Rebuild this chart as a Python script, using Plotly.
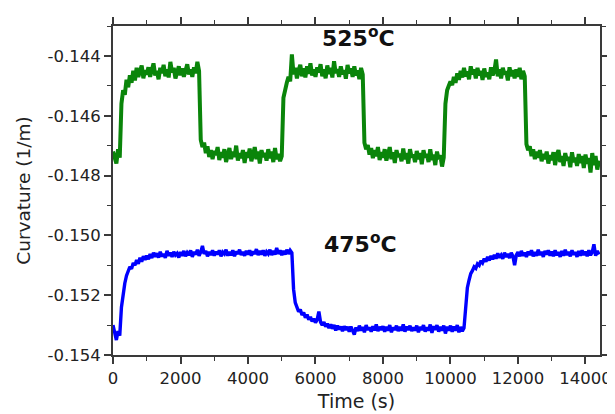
import plotly.graph_objects as go

# Time grid (s), sampled every 50 s
time_s = list(range(0, 14401, 50))

# 525 °C curvature (1/m)
curv_525 = [
    -0.14720, -0.14745, -0.14760, -0.14712, -0.14740, -0.14560, -0.14515, -0.14530, -0.14480, -0.14505,
    -0.14465, -0.14490, -0.14450, -0.14482, -0.14440, -0.14470, -0.14455, -0.14432, -0.14475, -0.14448,
    -0.14462, -0.14438, -0.14470, -0.14445, -0.14425, -0.14465, -0.14450, -0.14478, -0.14440, -0.14458,
    -0.14430, -0.14468, -0.14445, -0.14472, -0.14420, -0.14455, -0.14440, -0.14475, -0.14452, -0.14435,
    -0.14465, -0.14442, -0.14470, -0.14448, -0.14428, -0.14462, -0.14445, -0.14470, -0.14438, -0.14458,
    -0.14420, -0.14450, -0.14680, -0.14705, -0.14690, -0.14725, -0.14702, -0.14738, -0.14715, -0.14745,
    -0.14718, -0.14732, -0.14705, -0.14748, -0.14722, -0.14740, -0.14712, -0.14755, -0.14728, -0.14708,
    -0.14745, -0.14720, -0.14738, -0.14700, -0.14750, -0.14725, -0.14742, -0.14715, -0.14758, -0.14722,
    -0.14740, -0.14710, -0.14752, -0.14728, -0.14705, -0.14745, -0.14720, -0.14760, -0.14715, -0.14738,
    -0.14725, -0.14750, -0.14712, -0.14742, -0.14720, -0.14755, -0.14708, -0.14745, -0.14728, -0.14752,
    -0.14735, -0.14540, -0.14505, -0.14490, -0.14470, -0.14485, -0.14395, -0.14462, -0.14440, -0.14475,
    -0.14448, -0.14430, -0.14468, -0.14442, -0.14472, -0.14435, -0.14460, -0.14425, -0.14465, -0.14445,
    -0.14470, -0.14438, -0.14455, -0.14428, -0.14468, -0.14445, -0.14475, -0.14432, -0.14460, -0.14440,
    -0.14472, -0.14418, -0.14458, -0.14445, -0.14470, -0.14435, -0.14462, -0.14448, -0.14476, -0.14430,
    -0.14458, -0.14442, -0.14470, -0.14435, -0.14465, -0.14448, -0.14478, -0.14440, -0.14462, -0.14690,
    -0.14712, -0.14698, -0.14730, -0.14708, -0.14742, -0.14715, -0.14735, -0.14705, -0.14748, -0.14722,
    -0.14740, -0.14712, -0.14750, -0.14725, -0.14705, -0.14745, -0.14722, -0.14758, -0.14715, -0.14738,
    -0.14728, -0.14752, -0.14710, -0.14745, -0.14725, -0.14760, -0.14712, -0.14740, -0.14730, -0.14755,
    -0.14718, -0.14745, -0.14725, -0.14762, -0.14715, -0.14740, -0.14728, -0.14755, -0.14712, -0.14748,
    -0.14730, -0.14765, -0.14720, -0.14745, -0.14732, -0.14770, -0.14740, -0.14560, -0.14515, -0.14500,
    -0.14485, -0.14498, -0.14470, -0.14490, -0.14458, -0.14480, -0.14450, -0.14472, -0.14440, -0.14468,
    -0.14452, -0.14478, -0.14435, -0.14462, -0.14445, -0.14475, -0.14440, -0.14465, -0.14450, -0.14480,
    -0.14442, -0.14470, -0.14455, -0.14478, -0.14438, -0.14465, -0.14450, -0.14412, -0.14468, -0.14445,
    -0.14475, -0.14440, -0.14462, -0.14452, -0.14482, -0.14438, -0.14468, -0.14448, -0.14475, -0.14445,
    -0.14470, -0.14440, -0.14478, -0.14450, -0.14468, -0.14695, -0.14715, -0.14702, -0.14735, -0.14712,
    -0.14745, -0.14720, -0.14740, -0.14715, -0.14752, -0.14728, -0.14745, -0.14720, -0.14760, -0.14732,
    -0.14748, -0.14722, -0.14765, -0.14730, -0.14715, -0.14755, -0.14735, -0.14768, -0.14725, -0.14750,
    -0.14738, -0.14772, -0.14722, -0.14755, -0.14740, -0.14768, -0.14728, -0.14758, -0.14735, -0.14775,
    -0.14730, -0.14760, -0.14742, -0.14790, -0.14725, -0.14765, -0.14735, -0.14780, -0.14750,
]

# 475 °C curvature (1/m)
curv_475 = [
    -0.15300, -0.15330, -0.15350, -0.15320, -0.15335, -0.15240, -0.15190, -0.15160, -0.15135, -0.15120,
    -0.15105, -0.15112, -0.15092, -0.15100, -0.15082, -0.15095, -0.15075, -0.15088, -0.15070, -0.15082,
    -0.15068, -0.15080, -0.15062, -0.15076, -0.15058, -0.15072, -0.15060, -0.15074, -0.15055, -0.15070,
    -0.15062, -0.15075, -0.15052, -0.15068, -0.15058, -0.15072, -0.15055, -0.15066, -0.15060, -0.15074,
    -0.15056, -0.15068, -0.15052, -0.15070, -0.15058, -0.15066, -0.15050, -0.15072, -0.15055, -0.15064,
    -0.15048, -0.15068, -0.15056, -0.15035, -0.15062, -0.15052, -0.15070, -0.15055, -0.15066, -0.15050,
    -0.15068, -0.15054, -0.15064, -0.15050, -0.15070, -0.15056, -0.15062, -0.15048, -0.15068, -0.15055,
    -0.15066, -0.15050, -0.15070, -0.15054, -0.15062, -0.15048, -0.15066, -0.15055, -0.15068, -0.15052,
    -0.15064, -0.15050, -0.15068, -0.15054, -0.15062, -0.15046, -0.15066, -0.15052, -0.15064, -0.15050,
    -0.15068, -0.15055, -0.15062, -0.15048, -0.15066, -0.15052, -0.15064, -0.15042, -0.15062, -0.15050,
    -0.15066, -0.15052, -0.15064, -0.15048, -0.15062, -0.15050, -0.15058, -0.15180, -0.15225, -0.15240,
    -0.15255, -0.15248, -0.15266, -0.15258, -0.15275, -0.15265, -0.15282, -0.15272, -0.15288, -0.15278,
    -0.15292, -0.15282, -0.15255, -0.15290, -0.15300, -0.15290, -0.15305, -0.15295, -0.15310, -0.15298,
    -0.15312, -0.15300, -0.15318, -0.15302, -0.15314, -0.15305, -0.15320, -0.15304, -0.15316, -0.15306,
    -0.15322, -0.15305, -0.15318, -0.15332, -0.15308, -0.15320, -0.15302, -0.15318, -0.15306, -0.15324,
    -0.15300, -0.15316, -0.15308, -0.15322, -0.15304, -0.15318, -0.15298, -0.15320, -0.15306, -0.15316,
    -0.15304, -0.15322, -0.15306, -0.15318, -0.15300, -0.15324, -0.15308, -0.15316, -0.15302, -0.15320,
    -0.15306, -0.15318, -0.15298, -0.15322, -0.15305, -0.15316, -0.15302, -0.15320, -0.15308, -0.15318,
    -0.15302, -0.15324, -0.15306, -0.15316, -0.15300, -0.15322, -0.15308, -0.15318, -0.15298, -0.15326,
    -0.15304, -0.15316, -0.15300, -0.15322, -0.15306, -0.15318, -0.15302, -0.15328, -0.15305, -0.15318,
    -0.15302, -0.15322, -0.15305, -0.15318, -0.15300, -0.15324, -0.15306, -0.15320, -0.15310, -0.15230,
    -0.15175, -0.15150, -0.15128, -0.15118, -0.15105, -0.15110, -0.15095, -0.15100, -0.15085, -0.15092,
    -0.15078, -0.15088, -0.15072, -0.15084, -0.15068, -0.15080, -0.15065, -0.15078, -0.15060, -0.15074,
    -0.15066, -0.15078, -0.15058, -0.15072, -0.15062, -0.15076, -0.15058, -0.15070, -0.15100, -0.15066,
    -0.15056, -0.15070, -0.15052, -0.15068, -0.15058, -0.15072, -0.15054, -0.15066, -0.15050, -0.15070,
    -0.15056, -0.15068, -0.15048, -0.15066, -0.15055, -0.15072, -0.15052, -0.15064, -0.15050, -0.15068,
    -0.15054, -0.15070, -0.15050, -0.15066, -0.15056, -0.15072, -0.15052, -0.15068, -0.15048, -0.15066,
    -0.15055, -0.15070, -0.15050, -0.15064, -0.15056, -0.15072, -0.15052, -0.15068, -0.15050, -0.15066,
    -0.15054, -0.15070, -0.15050, -0.15066, -0.15056, -0.15030, -0.15068, -0.15052, -0.15064,
]

assert len(curv_525) == len(time_s), len(curv_525)
assert len(curv_475) == len(time_s), len(curv_475)

x_ticks = [0, 2000, 4000, 6000, 8000, 10000, 12000, 14000]
y_ticks = [-0.154, -0.152, -0.150, -0.148, -0.146, -0.144]
labels = ["525<sup>o</sup>C", "475<sup>o</sup>C"]

FONT = "DejaVu Sans, Arial, sans-serif"

fig = go.Figure()
fig.add_trace(go.Scatter(x=time_s, y=curv_525, mode="lines",
                         line=dict(color="#0a850a", width=4.0), name="525°C"))
fig.add_trace(go.Scatter(x=time_s, y=curv_475, mode="lines",
                         line=dict(color="#0000FF", width=3.4), name="475°C"))

axis_common = dict(
    showline=True, linecolor="#3a3a3a", linewidth=2, mirror="allticks",
    ticks="outside", ticklen=7, tickwidth=1.5, tickcolor="#3a3a3a",
    showgrid=False, zeroline=False,
    tickfont=dict(family=FONT, size=16.5, color="#222222"),
    minor=dict(ticks="outside", ticklen=4, tickwidth=1.2, tickcolor="#3a3a3a"),
)

fig.update_xaxes(
    range=[0, 14430], tickvals=x_ticks, ticktext=[str(v) for v in x_ticks],
    title=dict(text="Time (s)", font=dict(family=FONT, size=19, color="#222222"), standoff=8),
    minor_dtick=1000, minor_tick0=0,
    **axis_common,
)
fig.update_yaxes(
    range=[-0.154, -0.143], tickvals=y_ticks, ticktext=[f"{v:.3f}" for v in y_ticks],
    title=dict(text="Curvature (1/m)", font=dict(family=FONT, size=18.5, color="#222222"), standoff=12),
    minor_dtick=0.001, minor_tick0=0,
    **axis_common,
)

fig.add_annotation(x=7274, y=-0.14338, text="<b>" + labels[0] + "</b>", showarrow=False,
                   font=dict(family=FONT, size=22, color="#111111"))
fig.add_annotation(x=7348, y=-0.15024, text="<b>" + labels[1] + "</b>", showarrow=False,
                   font=dict(family=FONT, size=22, color="#111111"))

fig.update_layout(
    width=615, height=414,
    margin=dict(l=105, r=23, t=9, b=67),
    plot_bgcolor="white", paper_bgcolor="white",
    showlegend=False,
)

fig.write_html("out.html")
